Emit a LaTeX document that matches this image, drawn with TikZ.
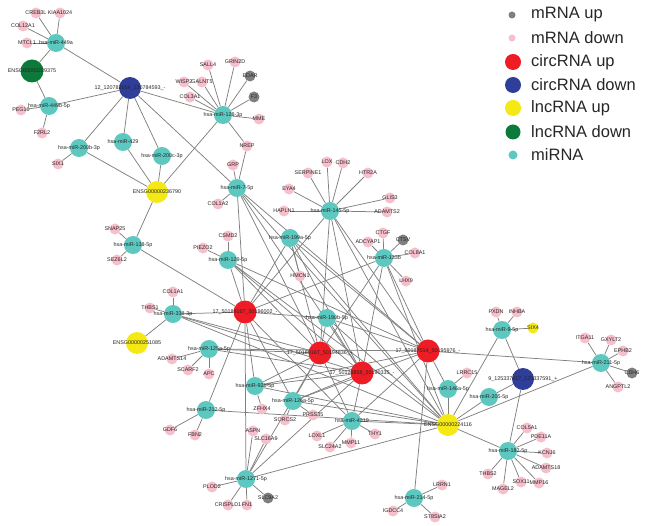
\documentclass[tikz,border=0pt]{standalone}
\usepackage{fontspec}
\setmainfont{Liberation Sans}
\pgfdeclarelayer{bg}
\pgfsetlayers{bg,main}
\definecolor{cpink}{HTML}{F6BFCB}
\definecolor{cgray}{HTML}{7F7F7F}
\definecolor{cred}{HTML}{EE1C24}
\definecolor{cblue}{HTML}{2F3F99}
\definecolor{cyel}{HTML}{F4E914}
\definecolor{cgreen}{HTML}{0C7A3A}
\definecolor{cteal}{HTML}{5CC8BF}
\definecolor{cedge}{HTML}{808080}
\definecolor{ctext}{HTML}{262626}
\newcommand\NodeList{%
\NDef{crebl}{mdn}{36}{13}{CREB3L}%
\NDef{kiaa}{mdn}{60}{13}{KIAA1024}%
\NDef{col12}{mdn}{23}{26}{COL12A1}%
\NDef{mtcl}{mdn}{27}{43}{MTCL1}%
\NDef{ensG}{ldn}{32}{71}{ENSG00000229375}%
\NDef{peg10}{mdn}{21}{110}{PEG10}%
\NDef{f2rl2}{mdn}{42}{133}{F2RL2}%
\NDef{six1}{mdn}{58}{164}{SIX1}%
\NDef{snap25}{mdn}{115}{229}{SNAP25}%
\NDef{sez6l2}{mdn}{117}{260}{SEZ6L2}%
\NDef{thbs1}{mdn}{150}{308}{THBS1}%
\NDef{col1a1}{mdn}{173}{292}{COL1A1}%
\NDef{csmd2}{mdn}{228}{236}{CSMD2}%
\NDef{piezo2}{mdn}{203}{248}{PIEZO2}%
\NDef{col1a2}{mdn}{218}{204}{COL1A2}%
\NDef{eya4}{mdn}{289}{189}{EYA4}%
\NDef{hapln1}{mdn}{284}{211}{HAPLN1}%
\NDef{hmcn1}{mdn}{300}{276}{HMCN1}%
\NDef{glis3}{mdn}{390}{198}{GLIS3}%
\NDef{adamts2}{mdn}{387}{212}{ADAMTS2}%
\NDef{ctgf}{mdn}{383}{233}{CTGF}%
\NDef{adcyap1}{mdn}{368}{242}{ADCYAP1}%
\NDef{ctsv}{mup}{403}{240}{CTSV}%
\NDef{col8a1}{mdn}{415}{253}{COL8A1}%
\NDef{lhx9}{mdn}{406}{281}{LHX9}%
\NDef{lox}{mdn}{327}{162}{LOX}%
\NDef{cdh2}{mdn}{343}{163}{CDH2}%
\NDef{htr2a}{mdn}{368}{173}{HTR2A}%
\NDef{serpine1}{mdn}{308}{173}{SERPINE1}%
\NDef{sall4}{mdn}{208}{65}{SALL4}%
\NDef{grin2d}{mdn}{235}{62}{GRIN2D}%
\NDef{wisp}{mdn}{184}{82}{WISP2}%
\NDef{galnt5}{mdn}{202}{82}{GALNT5}%
\NDef{edar}{mup}{250}{76}{EDAR}%
\NDef{f3}{mup}{254}{97}{F3}%
\NDef{col3a1}{mdn}{190}{97}{COL3A1}%
\NDef{mme}{mdn}{259}{119}{MME}%
\NDef{nrep}{mdn}{247}{146}{NREP}%
\NDef{grp}{mdn}{233}{165}{GRP}%
\NDef{pxdn}{mdn}{496}{312}{PXDN}%
\NDef{inhba}{mdn}{517}{312}{INHBA}%
\NDef{six4}{lsm}{533}{328}{SIX4}%
\NDef{itga11}{mdn}{585}{338}{ITGA11}%
\NDef{gxylt2}{mdn}{611}{340}{GXYLT2}%
\NDef{ephb2}{mdn}{623}{351}{EPHB2}%
\NDef{cdh6}{mup}{632}{373}{CDH6}%
\NDef{angptl2}{mdn}{618}{387}{ANGPTL2}%
\NDef{col5a1}{mdn}{527}{428}{COL5A1}%
\NDef{pde11a}{mdn}{541}{437}{PDE11A}%
\NDef{kcnj6}{mdn}{547}{453}{KCNJ6}%
\NDef{adamts18}{mdn}{546}{468}{ADAMTS18}%
\NDef{mmp16}{mdn}{539}{483}{MMP16}%
\NDef{sox11}{mdn}{521}{482}{SOX11}%
\NDef{magel2}{mdn}{503}{489}{MAGEL2}%
\NDef{thbs2}{mdn}{488}{474}{THBS2}%
\NDef{lrrc15}{mdn}{467}{373}{LRRC15}%
\NDef{thy1}{mdn}{375}{434}{THY1}%
\NDef{mmp11}{mdn}{351}{443}{MMP11}%
\NDef{slc24a2}{mdn}{330}{447}{SLC24A2}%
\NDef{loxl1}{mdn}{317}{436}{LOXL1}%
\NDef{lrrn1}{mdn}{442}{485}{LRRN1}%
\NDef{igdcc4}{mdn}{393}{511}{IGDCC4}%
\NDef{st8sia2}{mdn}{435}{517}{ST8SIA2}%
\NDef{adamts14}{mdn}{172}{359}{ADAMTS14}%
\NDef{scarf2}{mdn}{188}{370}{SCARF2}%
\NDef{apc}{mdn}{209}{374}{APC}%
\NDef{zfhx4}{mdn}{262}{409}{ZFHX4}%
\NDef{sorcs2}{mdn}{285}{420}{SORCS2}%
\NDef{prss35}{mdn}{313}{415}{PRSS35}%
\NDef{gdf6}{mdn}{170}{430}{GDF6}%
\NDef{fbn2}{mdn}{195}{435}{FBN2}%
\NDef{aspn}{mdn}{253}{431}{ASPN}%
\NDef{slc16a9}{mdn}{266}{439}{SLC16A9}%
\NDef{plod2}{mdn}{212}{487}{PLOD2}%
\NDef{slc9a2}{mup}{268}{498}{SLC9A2}%
\NDef{crispld1}{mdn}{228}{505}{CRISPLD1}%
\NDef{fn1}{mdn}{247}{505}{FN1}%
\NDef{mA}{mir}{56}{43}{hsa-miR-449a}%
\NDef{mB}{mir}{49}{106}{hsa-miR-449b-5p}%
\NDef{m429}{mir}{123}{142}{hsa-miR-429}%
\NDef{m200b}{mir}{79}{148}{hsa-miR-200b-3p}%
\NDef{m200c}{mir}{162}{156}{hsa-miR-200c-3p}%
\NDef{m138}{mir}{133}{245}{hsa-miR-138-5p}%
\NDef{m338}{mir}{173}{314}{hsa-miR-338-3p}%
\NDef{m129}{mir}{228}{260}{hsa-miR-129-5p}%
\NDef{m7}{mir}{237}{188}{hsa-miR-7-5p}%
\NDef{m199}{mir}{290}{238}{hsa-miR-199a-5p}%
\NDef{m190}{mir}{327}{318}{hsa-miR-190b-5p}%
\NDef{m145}{mir}{330}{211}{hsa-miR-145-5p}%
\NDef{m133}{mir}{384}{258}{hsa-miR-133b}%
\NDef{m128}{mir}{223}{115}{hsa-miR-128-3p}%
\NDef{m9}{mir}{502}{330}{hsa-miR-9-5p}%
\NDef{m211}{mir}{601}{363}{hsa-miR-211-5p}%
\NDef{m205}{mir}{489}{397}{hsa-miR-205-5p}%
\NDef{m182}{mir}{508}{451}{hsa-miR-182-5p}%
\NDef{m146}{mir}{448}{389}{hsa-miR-146a-5p}%
\NDef{m4319}{mir}{352}{421}{hsa-miR-4319}%
\NDef{m214}{mir}{414}{498}{hsa-miR-214-5p}%
\NDef{m125}{mir}{209}{349}{hsa-miR-125a-5p}%
\NDef{m92}{mir}{255}{386}{hsa-miR-92b-5p}%
\NDef{m126}{mir}{293}{401}{hsa-miR-126a-5p}%
\NDef{m212}{mir}{206}{410}{hsa-miR-212-5p}%
\NDef{m1271}{mir}{246}{479}{hsa-miR-1271-5p}%
\NDef{bl12}{cdn}{130}{88}{12\_120782654\_120784593\_-}%
\NDef{bl9}{cdn}{523}{379}{9\_125337017\_125337591\_+}%
\NDef{ens236}{lup}{157}{192}{ENSG00000236790}%
\NDef{ens251}{lup}{137}{343}{ENSG00000251085}%
\NDef{ensE}{lup}{448}{425}{ENSG00000224116}%
\NDef{rA}{cup}{245}{312}{17\_50189167\_50196002\_-}%
\NDef{rB}{cup}{320}{353}{17\_50189167\_50194836\_+}%
\NDef{rC}{cup}{362}{373}{17\_50128858\_50190335\_-}%
\NDef{rD}{cup}{428}{351}{17\_50187014\_50195976\_-}%
}
\begin{document}
\begin{tikzpicture}[x=1pt,y=-1pt,
  dot/.style={circle,inner sep=0pt,draw=none},
  mdn/.style={dot,fill=cpink,minimum size=11pt},
  mup/.style={dot,fill=cgray,minimum size=11pt},
  lsm/.style={dot,fill=cyel,minimum size=11pt},
  mir/.style={dot,fill=cteal,minimum size=18pt},
  cup/.style={dot,fill=cred,minimum size=23pt},
  cdn/.style={dot,fill=cblue,minimum size=22pt},
  lup/.style={dot,fill=cyel,minimum size=22pt},
  ldn/.style={dot,fill=cgreen,minimum size=23pt},
  lab/.style={inner sep=0pt,text=ctext,font=\fontsize{5.4}{6}\selectfont},
  edge/.style={draw=cedge,line width=0.75pt},
  legtxt/.style={anchor=west,inner sep=0pt,text=ctext,font=\fontsize{16.5}{18}\selectfont}]
\useasboundingbox (0,0) rectangle (648,526);
\def\NDef#1#2#3#4#5{\node[#2] (#1) at (#3,#4) {};}
\NodeList
\begin{pgfonlayer}{bg}
\foreach \a/\b in {mA/crebl,mA/kiaa,mA/col12,mA/mtcl,mA/ensG,mA/bl12,
  mB/ensG,mB/peg10,mB/f2rl2,mB/bl12,
  bl12/m429,bl12/m200b,bl12/m200c,bl12/m128,bl12/m7,
  m200b/six1,m200b/ens236,m429/ens236,m200c/ens236,
  m128/sall4,m128/grin2d,m128/wisp,m128/galnt5,m128/edar,m128/f3,m128/col3a1,m128/mme,m128/nrep,m128/ens236,
  nrep/m7,m7/grp,m7/col1a2,
  m138/ens236,m138/snap25,m138/sez6l2,m138/rA,
  m338/col1a1,m338/thbs1,m338/ens251,m338/rA,m338/rB,m338/rC,m338/ensE,
  m129/csmd2,m129/piezo2,m199/hmcn1,
  m145/lox,m145/cdh2,m145/htr2a,m145/serpine1,m145/glis3,m145/adamts2,m145/eya4,m145/hapln1,
  m133/ctgf,m133/adcyap1,m133/ctsv,m133/col8a1,m133/lhx9,
  m125/adamts14,m125/scarf2,m125/apc,m125/rB,m125/rC,m125/rD,
  m212/gdf6,m212/fbn2,m212/rA,m212/ensE,
  m92/zfhx4,m126/sorcs2,m126/prss35,
  m1271/plod2,m1271/slc9a2,m1271/crispld1,m1271/fn1,m1271/aspn,m1271/slc16a9,
  m1271/rA,m1271/rB,m1271/rC,m1271/ensE,
  m4319/thy1,m4319/mmp11,m4319/slc24a2,m4319/loxl1,
  m146/lrrc15,m146/ensE,m146/rD,
  m9/pxdn,m9/inhba,m9/six4,m9/bl9,m9/ensE,
  m211/itga11,m211/gxylt2,m211/ephb2,m211/cdh6,m211/angptl2,m211/rD,m211/ensE,
  bl9/m205,bl9/m182,m205/ensE,
  m182/col5a1,m182/pde11a,m182/kcnj6,m182/adamts18,m182/mmp16,m182/sox11,m182/magel2,m182/thbs2,m182/ensE,
  m214/lrrn1,m214/igdcc4,m214/st8sia2,m214/rD}
  \draw[edge] (\a) -- (\b);
\foreach \m in {m7,m129,m199,m145,m133,m190,m92,m126,m4319}
  \foreach \h in {rA,rB,rC,rD,ensE}
    \draw[edge] (\m) -- (\h);
\end{pgfonlayer}
\def\NDef#1#2#3#4#5{\node[lab] at (#1) {#5};}
\NodeList
% legend
\node[mup,minimum size=7pt] (lg1) at (512,15) {};
\node[mdn,minimum size=7pt] (lg2) at (512,38) {};
\node[cup,minimum size=16pt] (lg3) at (513,62) {};
\node[cdn,minimum size=16pt] (lg4) at (513,85) {};
\node[lup,minimum size=16pt] (lg5) at (513,108) {};
\node[ldn,minimum size=15pt] (lg6) at (513,132) {};
\node[mir,minimum size=9pt] (lg7) at (513,155) {};
\node[legtxt] at (531,15) {mRNA up};
\node[legtxt] at (531,38) {mRNA down};
\node[legtxt] at (531,62) {circRNA up};
\node[legtxt] at (531,85) {circRNA down};
\node[legtxt] at (531,108) {lncRNA up};
\node[legtxt] at (531,132) {lncRNA down};
\node[legtxt] at (531,155) {miRNA};
\end{tikzpicture}
\end{document}
